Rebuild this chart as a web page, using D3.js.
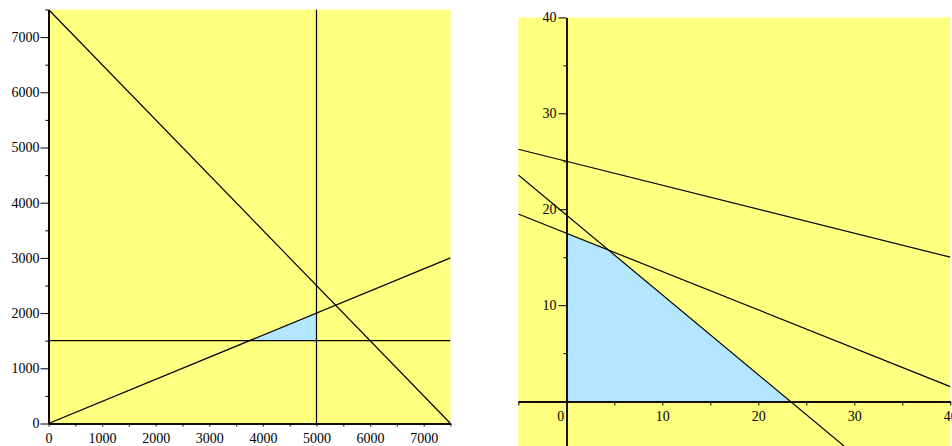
<!DOCTYPE html>
<html>
<head>
<meta charset="utf-8">
<script src="https://cdn.jsdelivr.net/npm/d3@7"></script>
<style>
  html, body { margin: 0; padding: 0; background: #fff; }
  svg { display: block; }
</style>
</head>
<body>
<svg id="chart" width="952" height="446"></svg>
<script>
// ---------- data: left plot ----------
const leftXDomain = [0, 7500];
const leftYDomain = [0, 7500];
const leftMajorTicks = [0, 1000, 2000, 3000, 4000, 5000, 6000, 7000];
const leftMinorTicks = [500, 1500, 2500, 3500, 4500, 5500, 6500, 7500];
const leftLineSum = [[0, 7500], [7500, 0]];         // x + y = 7500
const leftLineVert = [[5000, 0], [5000, 7500]];     // x = 5000
const leftLineHoriz = [[0, 1500], [7500, 1500]];    // y = 1500
const leftLineRatio = [[0, 0], [7500, 3000]];       // y = 0.4x
const leftRegion = [[3750, 1500], [5000, 1500], [5000, 2000]];

// ---------- data: right plot ----------
const rightXDomain = [-5, 40];
const rightYDomain = [-5, 40];
const rightXMajor = [0, 10, 20, 30, 40];
const rightXMinor = [-5, 5, 15, 25, 35];
const rightYMajor = [10, 20, 30, 40];
const rightYMinor = [5, 15, 25, 35];
const rightLineA = [[-5, 26.25], [40, 15]];
const rightLineB = [[-5, 23.57], [29.3, -5]];
const rightLineC = [[-5, 19.5], [40, 1.5]];
const rightRegion = [[0, 0], [0, 17.5], [4.4, 15.75], [23.3, 0]];

const YELLOW = "#ffff80";
const BLUE = "#b4e6ff";
const FONT = "'Liberation Serif', 'Times New Roman', Times, 'DejaVu Serif', serif";

const svg = d3.select("#chart");

function styleAxis(g, w) {
  g.attr("font-family", FONT).attr("font-size", 14);
  g.select(".domain").attr("stroke", "#000").attr("stroke-width", w);
  g.selectAll(".tick line").attr("stroke", "#000").attr("stroke-width", 1);
  g.selectAll(".tick text").attr("font-family", FONT).attr("font-size", 14).attr("fill", "#000");
}

// ================= LEFT =================
const lx = d3.scaleLinear().domain(leftXDomain).range([48.5, 450.5]);
const ly = d3.scaleLinear().domain(leftYDomain).range([423.5, 9.5]);

svg.append("clipPath").attr("id", "clipL").append("rect")
  .attr("x", lx(leftXDomain[0])).attr("y", ly(leftYDomain[1]))
  .attr("width", lx(leftXDomain[1]) - lx(leftXDomain[0]))
  .attr("height", ly(leftYDomain[0]) - ly(leftYDomain[1]));

svg.append("rect")
  .attr("x", lx(leftXDomain[0])).attr("y", ly(leftYDomain[1]))
  .attr("width", lx(leftXDomain[1]) - lx(leftXDomain[0]))
  .attr("height", ly(leftYDomain[0]) - ly(leftYDomain[1]))
  .attr("fill", YELLOW);

const lineL = d3.line().x(d => lx(d[0])).y(d => ly(d[1]));
const gL = svg.append("g").attr("clip-path", "url(#clipL)");
gL.append("path").attr("d", lineL(leftRegion) + "Z").attr("fill", BLUE);
[leftLineSum, leftLineVert, leftLineHoriz, leftLineRatio].forEach(p => {
  gL.append("path").attr("d", lineL(p)).attr("fill", "none")
    .attr("stroke", "#000").attr("stroke-width", 1.2);
});

const lyAxisMajor = d3.axisLeft(ly).tickValues(leftMajorTicks).tickSize(8).tickPadding(1).tickSizeOuter(0).tickFormat(d3.format("d"));
const lyAxisMinor = d3.axisLeft(ly).tickValues(leftMinorTicks).tickSize(3).tickSizeOuter(0).tickFormat("");
const lxAxisMajor = d3.axisBottom(lx).tickValues(leftMajorTicks).tickSize(3).tickPadding(7).tickSizeOuter(0).tickFormat(d3.format("d"));
const lxAxisMinor = d3.axisBottom(lx).tickValues(leftMinorTicks).tickSize(3).tickSizeOuter(0).tickFormat("");

const gly1 = svg.append("g").attr("transform", `translate(${lx(0)},0)`).call(lyAxisMajor);
const gly2 = svg.append("g").attr("transform", `translate(${lx(0)},0)`).call(lyAxisMinor);
const glx1 = svg.append("g").attr("transform", `translate(0,${ly(0)})`).call(lxAxisMajor);
const glx2 = svg.append("g").attr("transform", `translate(0,${ly(0)})`).call(lxAxisMinor);
[gly1, gly2, glx1, glx2].forEach(g => styleAxis(g, 1.6));

// ================= RIGHT =================
const rx = d3.scaleLinear().domain(rightXDomain).range([518.3, 950.3]);
const ry = d3.scaleLinear().domain(rightYDomain).range([449, 17.4]);

svg.append("clipPath").attr("id", "clipR").append("rect")
  .attr("x", rx(rightXDomain[0])).attr("y", ry(rightYDomain[1]))
  .attr("width", rx(rightXDomain[1]) - rx(rightXDomain[0]))
  .attr("height", ry(rightYDomain[0]) - ry(rightYDomain[1]));

svg.append("rect")
  .attr("x", rx(rightXDomain[0])).attr("y", ry(rightYDomain[1]))
  .attr("width", rx(rightXDomain[1]) - rx(rightXDomain[0]))
  .attr("height", ry(rightYDomain[0]) - ry(rightYDomain[1]))
  .attr("fill", YELLOW);

const lineR = d3.line().x(d => rx(d[0])).y(d => ry(d[1]));
const gR = svg.append("g").attr("clip-path", "url(#clipR)");
gR.append("path").attr("d", lineR(rightRegion) + "Z").attr("fill", BLUE);
[rightLineA, rightLineB, rightLineC].forEach(p => {
  gR.append("path").attr("d", lineR(p)).attr("fill", "none")
    .attr("stroke", "#000").attr("stroke-width", 1.2);
});

const ryAxisMajor = d3.axisLeft(ry).tickValues(rightYMajor).tickSize(8).tickPadding(2).tickSizeOuter(0).tickFormat(d3.format("d"));
const ryAxisMinor = d3.axisLeft(ry).tickValues(rightYMinor).tickSize(3).tickSizeOuter(0).tickFormat("");
const rxAxisMajor = d3.axisBottom(rx).tickValues(rightXMajor).tickSize(4).tickPadding(6).tickSizeOuter(0).tickFormat(d3.format("d"));
const rxAxisMinor = d3.axisBottom(rx).tickValues(rightXMinor).tickSize(4).tickSizeOuter(0).tickFormat("");

const x0 = Math.round(rx(0)) + 0.5;
const y0 = Math.round(ry(0)) + 0.5;
const gry1 = svg.append("g").attr("transform", `translate(${x0},0)`).call(ryAxisMajor);
const gry2 = svg.append("g").attr("transform", `translate(${x0},0)`).call(ryAxisMinor);
const grx1 = svg.append("g").attr("transform", `translate(0,${y0})`).call(rxAxisMajor);
const grx2 = svg.append("g").attr("transform", `translate(0,${y0})`).call(rxAxisMinor);
[gry1, gry2, grx1, grx2].forEach(g => styleAxis(g, 1.4));
// the "0" label sits left of the vertical axis
grx1.selectAll(".tick").filter(d => d === 0).select("text").attr("dx", -6);
</script>
</body>
</html>
